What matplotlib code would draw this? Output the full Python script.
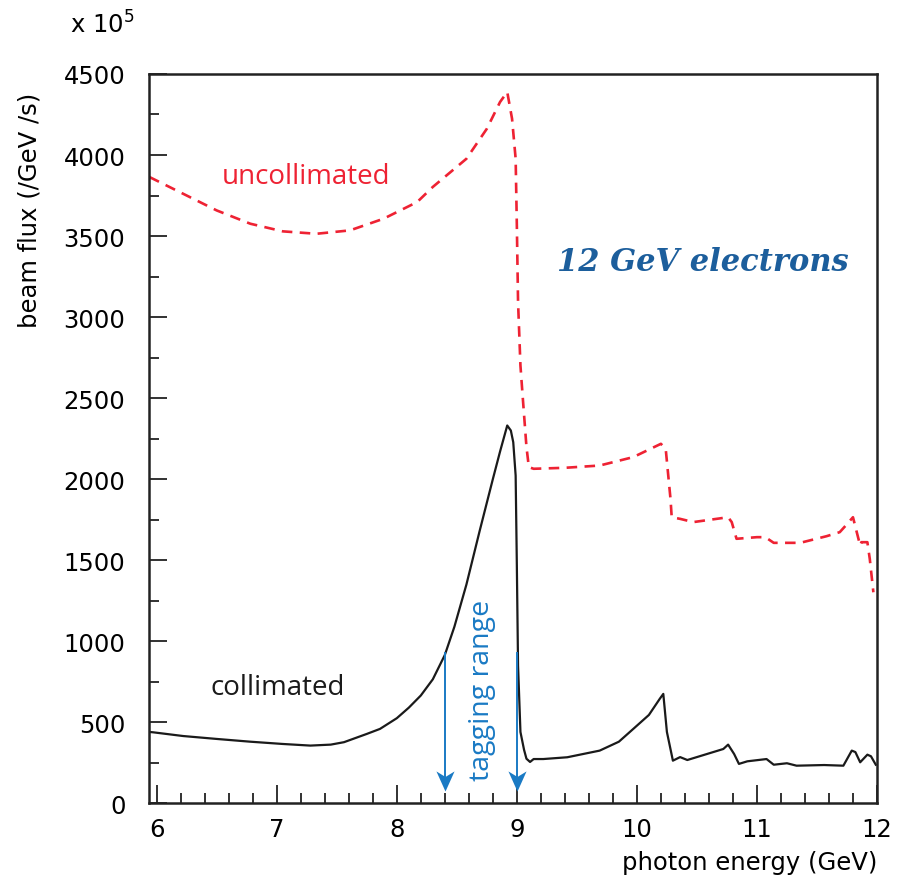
import numpy as np
import matplotlib.pyplot as plt
from matplotlib.ticker import MultipleLocator
from matplotlib.path import Path

# collimated beam (solid black)
coll_e = [5.94, 5.97, 6.22, 6.50, 6.78, 7.05, 7.28, 7.45, 7.56, 7.75, 7.86, 8.00, 8.10, 8.20,
          8.30, 8.40, 8.48, 8.58, 8.69, 8.80, 8.86, 8.92, 8.95, 8.97, 8.99, 9.00, 9.01,
          9.03, 9.06, 9.08, 9.11, 9.14, 9.22, 9.42, 9.69, 9.85, 9.97, 10.10, 10.19, 10.22,
          10.25, 10.30, 10.36, 10.42, 10.72, 10.76, 10.81, 10.85, 10.92, 11.08, 11.14,
          11.25, 11.33, 11.56, 11.72, 11.79, 11.82, 11.86, 11.92, 11.95, 11.99]
coll_flux = [440, 438, 415, 397, 380, 366, 356, 362, 377, 428, 459, 525, 590, 665,
             765, 915, 1090, 1350, 1680, 2000, 2170, 2331, 2300, 2228, 2022, 1467, 850,
             440, 330, 275, 255, 273, 273, 284, 325, 380, 459, 545, 644, 675,
             440, 263, 285, 267, 335, 362, 304, 243, 259, 273, 238,
             247, 232, 236, 232, 325, 316, 253, 300, 290, 238]

# uncollimated beam (dashed red)
unc_e = [5.94, 6.22, 6.50, 6.78, 7.05, 7.33, 7.61, 7.89, 8.17, 8.30, 8.58, 8.75, 8.86,
         8.92, 8.96, 8.99, 9.00, 9.01, 9.03, 9.05, 9.08, 9.10, 9.14, 9.40, 9.69, 9.97,
         10.20, 10.24, 10.28, 10.29, 10.36, 10.47, 10.76, 10.79, 10.83, 11.00, 11.07,
         11.14, 11.36, 11.58, 11.69, 11.74, 11.80, 11.86, 11.87, 11.92, 11.94, 11.97]
unc_flux = [3864, 3761, 3658, 3576, 3529, 3514, 3535, 3607, 3710, 3803, 3977, 4162, 4327,
            4389, 4224, 3977, 3565, 3094, 2700, 2496, 2200, 2074, 2064, 2070, 2084, 2136,
            2218, 2187, 1878, 1765, 1755, 1735, 1765, 1735, 1632, 1642, 1642,
            1607, 1607, 1648, 1673, 1714, 1765, 1590, 1611, 1611, 1508, 1302]

tag_lo, tag_hi = 8.4, 9.0

blue = '#1a7ac4'
red = '#ee2233'

fig = plt.figure(figsize=(9.16, 8.79), dpi=100)
ax = fig.add_axes([0.1627, 0.085, 0.7947, 0.8297])

ax.plot(coll_e, coll_flux, color='#1a1a1a', lw=1.6)
ax.plot(unc_e, unc_flux, color=red, lw=1.9, linestyle=(0, (4, 2.8)))

# tagging range arrows: thin line with a barbed head
head = Path([(0, -1), (0.9, 1), (0, 0.45), (-0.9, 1), (0, -1)],
            [Path.MOVETO, Path.LINETO, Path.LINETO, Path.LINETO, Path.CLOSEPOLY])
for xe in (tag_lo, tag_hi):
    ax.plot([xe, xe], [925, 140], color=blue, lw=1.4)
    ax.plot([xe], [138], marker=head, markersize=14.5, color=blue, markeredgewidth=0)

ax.text(8.71, 700, 'tagging range', rotation=90, color=blue, fontsize=20.5,
        family='Open Sans', ha='center', va='center')
ax.text(7.24, 3872, 'uncollimated', color=red, fontsize=20, family='Open Sans',
        ha='center', va='center')
ax.text(7.01, 719, 'collimated', color='#1a1a1a', fontsize=20, family='Open Sans',
        ha='center', va='center')
ax.text(10.55, 3343, '12 GeV electrons', color='#1c5e9c', fontsize=22,
        family='DejaVu Serif', style='italic', weight='bold', ha='center', va='center')

ax.set_xlim(5.936, 12)
ax.set_ylim(0, 4500)
ax.xaxis.set_major_locator(MultipleLocator(1))
ax.xaxis.set_minor_locator(MultipleLocator(0.2))
ax.yaxis.set_major_locator(MultipleLocator(500))
ax.yaxis.set_minor_locator(MultipleLocator(250))
ax.tick_params(which='both', direction='in', top=False, right=False, width=1.3,
               labelsize=17.5, color='#222222')
ax.tick_params(which='major', length=13)
ax.tick_params(which='minor', length=7)
ax.tick_params(axis='y', pad=17)
ax.tick_params(axis='x', pad=10)
for sp in ax.spines.values():
    sp.set_linewidth(1.8)
    sp.set_color('#222222')

ax.set_xlabel('photon energy (GeV)', fontsize=17.5, loc='right', labelpad=6)
ax.set_ylabel('beam flux (/GeV /s)', fontsize=17.5, loc='top')
ax.yaxis.set_label_coords(-0.148, 0.975)
fig.text(0.076, 0.972, r'x 10$^{5}$', fontsize=17.5, va='center')

fig.savefig('out.png', dpi=100)
